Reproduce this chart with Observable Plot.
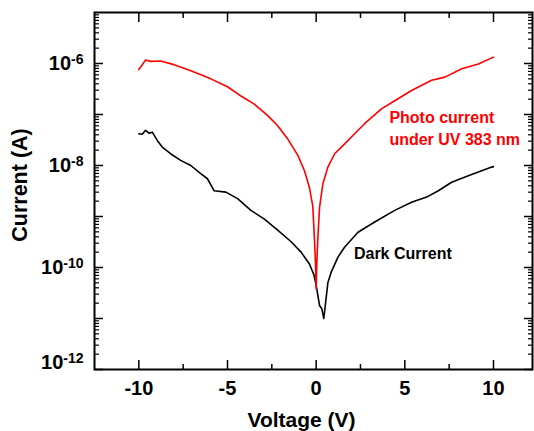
<!DOCTYPE html>
<html><head><meta charset="utf-8">
<script src="https://cdn.jsdelivr.net/npm/d3@7"></script>
<script src="https://cdn.jsdelivr.net/npm/@observablehq/plot@0.6"></script>
<style>
html,body{margin:0;padding:0;background:#fff;}
#chart svg{font-family:"Liberation Sans",Arial,Helvetica,sans-serif;font-weight:bold;}
</style></head><body><div id="chart"></div>
<script>
// Photo current under UV 383 nm (voltage in V, current in A)
const photoVoltage = [-10.0,-9.8,-9.62,-9.34,-8.77,-8.02,-7.07,-5.94,-5.0,-4.24,-3.49,-2.73,-2.17,-1.6,-1.04,-0.66,-0.38,-0.19,-0.09,-0.04,0.0,0.04,0.09,0.19,0.38,0.66,1.04,1.51,2.17,2.73,3.68,4.43,5.38,6.51,7.26,8.21,9.15,9.9,10.0];
const photoCurrent = [7.6e-7,9.5e-7,1.17e-6,1.10e-6,1.12e-6,9.5e-7,7.2e-7,5.0e-7,3.5e-7,2.3e-7,1.6e-7,9.5e-8,6.0e-8,3.3e-8,1.6e-8,7.9e-9,3.7e-9,1.6e-9,3.2e-10,1.26e-10,3.8e-11,1.26e-10,3.4e-10,1.5e-9,4.4e-9,9.3e-9,1.7e-8,2.45e-8,4.2e-8,6.6e-8,1.29e-7,1.86e-7,2.95e-7,4.7e-7,5.4e-7,7.9e-7,9.8e-7,1.29e-6,1.32e-6];
// Dark current
const darkVoltage = [-10.0,-9.81,-9.62,-9.43,-9.24,-8.96,-8.68,-8.21,-7.64,-7.07,-6.51,-6.13,-5.76,-5.09,-4.43,-3.68,-2.92,-2.17,-1.41,-0.85,-0.38,-0.13,0.0,0.19,0.32,0.43,0.66,0.85,1.23,1.6,2.36,3.3,4.43,5.38,6.23,6.89,7.64,8.58,9.9,10.0];
const darkCurrent = [4.2e-8,4.1e-8,4.9e-8,4.3e-8,4.5e-8,3.1e-8,2.3e-8,1.7e-8,1.26e-8,1.0e-8,6.9e-9,5.5e-9,3.2e-9,3.0e-9,2.24e-9,1.32e-9,8.9e-10,5.4e-10,3.2e-10,2.0e-10,1.17e-10,7.2e-11,4.5e-11,1.8e-11,1.55e-11,1.0e-11,5.0e-11,8.1e-11,1.6e-10,2.5e-10,4.9e-10,7.8e-10,1.32e-9,1.9e-9,2.4e-9,3.2e-9,4.7e-9,6.3e-9,9.3e-9,9.5e-9];

const xTicks = [-10,-5,0,5,10];
const xMinorTicks = [-7.5,-2.5,2.5,7.5];
const yTicks = [1e-12,1e-10,1e-8,1e-6];
const yTickExponents = ["-12","-10","-8","-6"];
const xTitle = "Voltage (V)";
const yTitle = "Current (A)";
const annotationText = ["Photo current\nunder UV 383 nm","Dark Current"];
const annotationX = [4.13, 2.13];
const annotationY = [5.6e-8, 2.0e-10];
const annotationColor = ["#ff0000","#000000"];

const photo = photoVoltage.map((v,i)=>({v, c: photoCurrent[i]}));
const dark = darkVoltage.map((v,i)=>({v, c: darkCurrent[i]}));
const annotations = annotationText.map((t,i)=>({t, x: annotationX[i], y: annotationY[i], color: annotationColor[i]}));
const yMinor = [];
for (let e = -12; e <= -6; e++) for (let k = 2; k <= 9; k++) yMinor.push(k * Math.pow(10, e));
const yMajorAll = [1e-12,1e-11,1e-10,1e-9,1e-8,1e-7,1e-6];
const expOf = new Map(yTicks.map((t,i)=>[t, yTickExponents[i]]));
const blank = () => "";

const chart = Plot.plot({
  width: 534, height: 431,
  marginLeft: 94, marginRight: 2, marginTop: 12, marginBottom: 62,
  style: {fontFamily: '"Liberation Sans", Arial, sans-serif', fontWeight: "bold", fontSize: "20px", background: "white", color: "black", overflow: "visible"},
  x: {domain: [-12.5, 12.2]},
  y: {type: "log", domain: [1e-12, 1e-5]},
  marks: [
    Plot.axisX({anchor: "bottom", ticks: xTicks, tickSize: -9, tickPadding: 20, strokeWidth: 1.5, fontSize: 20, tickFormat: d => String(d), label: null}),
    Plot.axisX({anchor: "bottom", ticks: xMinorTicks, tickSize: -5, strokeWidth: 1.5, tickFormat: blank, label: null}),
    Plot.axisX({anchor: "top", ticks: xTicks, tickSize: -9, strokeWidth: 1.5, tickFormat: blank, label: null}),
    Plot.axisX({anchor: "top", ticks: xMinorTicks, tickSize: -5, strokeWidth: 1.5, tickFormat: blank, label: null}),
    Plot.axisY({anchor: "left", ticks: yMajorAll, tickSize: -9, strokeWidth: 1.5, tickFormat: blank, label: null}),
    Plot.axisY({anchor: "left", ticks: yMinor, tickSize: -5, strokeWidth: 1.2, tickFormat: blank, label: null}),
    Plot.axisY({anchor: "right", ticks: yMajorAll, tickSize: -9, strokeWidth: 1.5, tickFormat: blank, label: null}),
    Plot.axisY({anchor: "right", ticks: yMinor, tickSize: -5, strokeWidth: 1.2, tickFormat: blank, label: null}),
    Plot.axisY({anchor: "left", ticks: yTicks, tickSize: 0, tickPadding: 11, fontSize: 20, tickFormat: d => "10|" + expOf.get(d), label: null}),
    Plot.frame({stroke: "black", strokeWidth: 2}),
    Plot.line(dark, {x: "v", y: "c", stroke: "#000000", strokeWidth: 1.6}),
    Plot.line(photo, {x: "v", y: "c", stroke: "#ff0000", strokeWidth: 1.6}),
    Plot.text(annotations, {x: "x", y: "y", text: "t", fill: "color", textAnchor: "start", lineAnchor: "middle", lineHeight: 1.35, fontSize: 16, fontWeight: "bold"}),
    Plot.text([xTitle], {frameAnchor: "bottom", text: d => d, textAnchor: "middle", lineAnchor: "middle", dy: 51, dx: -12, fontSize: 21, fontWeight: "bold"}),
    Plot.text([yTitle], {frameAnchor: "left", text: d => d, textAnchor: "middle", lineAnchor: "middle", dx: -74, dy: -6, rotate: -90, fontSize: 21.5, fontWeight: "bold"})
  ]
});
document.getElementById("chart").appendChild(chart);

// Render "10|-6" tick labels as 10 with a raised exponent
d3.select(chart).selectAll('g[aria-label="y-axis tick label"] text').each(function() {
  const s = this.textContent;
  if (s.indexOf("|") < 0) return;
  const [base, exp] = s.split("|");
  const t = d3.select(this);
  t.text(null);
  t.append("tspan").text(base);
  t.append("tspan").attr("dy", "-0.42em").attr("font-size", "14px").text(exp);
  if (exp === "-12") t.attr("transform", (t.attr("transform") || "") + " translate(0,-7)");
});
</script>
</body></html>
